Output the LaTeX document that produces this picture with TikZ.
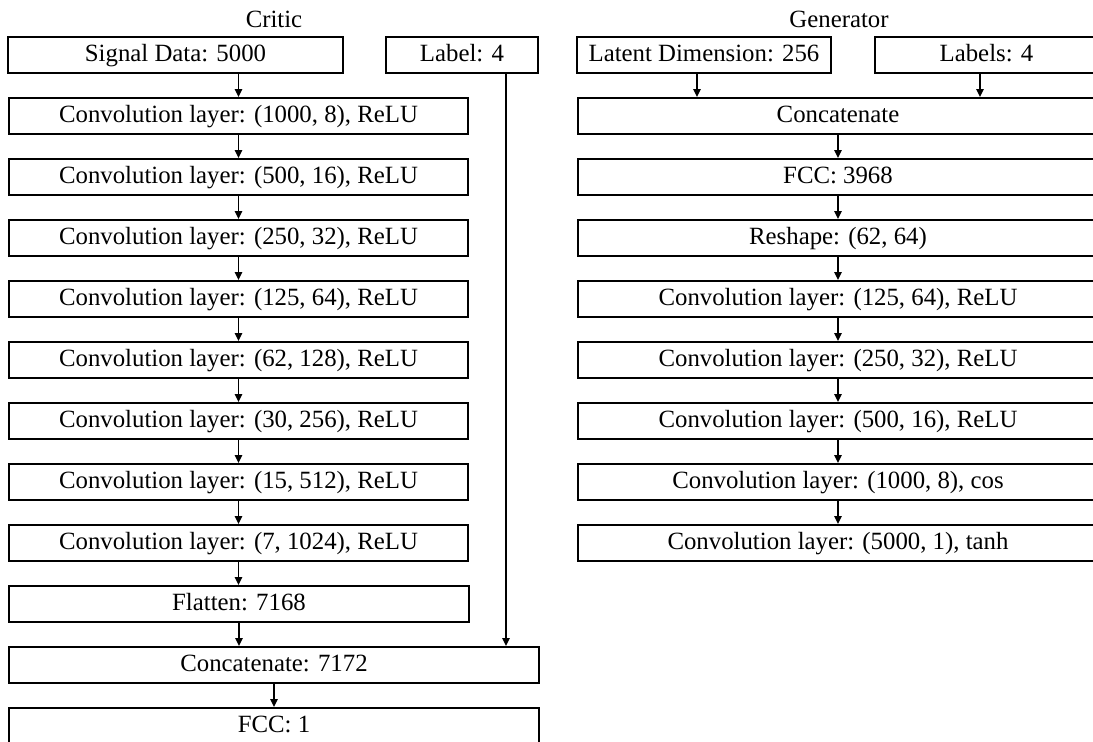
\documentclass[tikz,border=0pt]{standalone}
\usepackage{fontspec}
\setmainfont{Liberation Serif}
\usetikzlibrary{arrows.meta}
\begin{document}
\begin{tikzpicture}[x=0.5pt,y=-0.5pt,
  box/.style={draw,line width=0.9pt,minimum height=18pt,inner sep=0pt,
    text height=0.76em,text depth=0.14em,
    minimum width=#1*0.5pt,font=\fontsize{12.4}{14}\selectfont},
  arr/.style={line width=0.8pt,-{Triangle[length=4pt,width=3.6pt]}},
  ttl/.style={font=\fontsize{12.4}{14}\selectfont}]
\useasboundingbox (0,0) rectangle (1093,741);
\clip (0,0) rectangle (1093,741);
% Critic
\node[ttl] (ct) at (274,19) {Critic};
\node[box=335] (sig) at (175.5,55) {Signal Data: 5000};
\node[box=152] (lab) at (462,55) {Label: 4};
\node[box=459] (c1) at (238.5,116) {Convolution layer: (1000, 8), ReLU};
\node[box=459] (c2) at (238.5,177) {Convolution layer: (500, 16), ReLU};
\node[box=459] (c3) at (238.5,238) {Convolution layer: (250, 32), ReLU};
\node[box=459] (c4) at (238.5,299) {Convolution layer: (125, 64), ReLU};
\node[box=459] (c5) at (238.5,360) {Convolution layer: (62, 128), ReLU};
\node[box=459] (c6) at (238.5,421) {Convolution layer: (30, 256), ReLU};
\node[box=459] (c7) at (238.5,482) {Convolution layer: (15, 512), ReLU};
\node[box=459] (c8) at (238.5,543) {Convolution layer: (7, 1024), ReLU};
\node[box=460] (fl) at (239,604) {Flatten: 7168};
\node[box=530] (cat) at (274,665) {Concatenate: 7172};
\node[box=530] (fcc) at (274,726) {FCC: 1};
\coordinate (lx) at (506,0);
\draw[arr] (sig.south -| c1) -- (c1.north);
\draw[arr] (c1.south) -- (c2.north);
\draw[arr] (c2.south) -- (c3.north);
\draw[arr] (c3.south) -- (c4.north);
\draw[arr] (c4.south) -- (c5.north);
\draw[arr] (c5.south) -- (c6.north);
\draw[arr] (c6.south) -- (c7.north);
\draw[arr] (c7.south) -- (c8.north);
\draw[arr] (c8.south) -- (c8.south |- fl.north);
\draw[arr] (fl.south) -- (fl.south |- cat.north);
\draw[arr] (cat.south) -- (fcc.north);
\draw[arr] (lab.south -| lx) -- (cat.north -| lx);
% Generator
\node[ttl] (gt) at (839,19) {Generator};
\node[box=254] (lat) at (704,55) {Latent Dimension: 256};
\node[box=223] (labs) at (986.5,55) {Labels: 4};
\node[box=520] (g1) at (838,116) {Concatenate};
\node[box=520] (g2) at (838,177) {FCC: 3968};
\node[box=520] (g3) at (838,238) {Reshape: (62, 64)};
\node[box=520] (g4) at (838,299) {Convolution layer: (125, 64), ReLU};
\node[box=520] (g5) at (838,360) {Convolution layer: (250, 32), ReLU};
\node[box=520] (g6) at (838,421) {Convolution layer: (500, 16), ReLU};
\node[box=520] (g7) at (838,482) {Convolution layer: (1000, 8), cos};
\node[box=520] (g8) at (838,543) {Convolution layer: (5000, 1), tanh};
\coordinate (ax1) at (697,0);
\coordinate (ax2) at (980,0);
\draw[arr] (lat.south -| ax1) -- (g1.north -| ax1);
\draw[arr] (labs.south -| ax2) -- (g1.north -| ax2);
\draw[arr] (g1.south) -- (g2.north);
\draw[arr] (g2.south) -- (g3.north);
\draw[arr] (g3.south) -- (g4.north);
\draw[arr] (g4.south) -- (g5.north);
\draw[arr] (g5.south) -- (g6.north);
\draw[arr] (g6.south) -- (g7.north);
\draw[arr] (g7.south) -- (g8.north);
\end{tikzpicture}
\end{document}
